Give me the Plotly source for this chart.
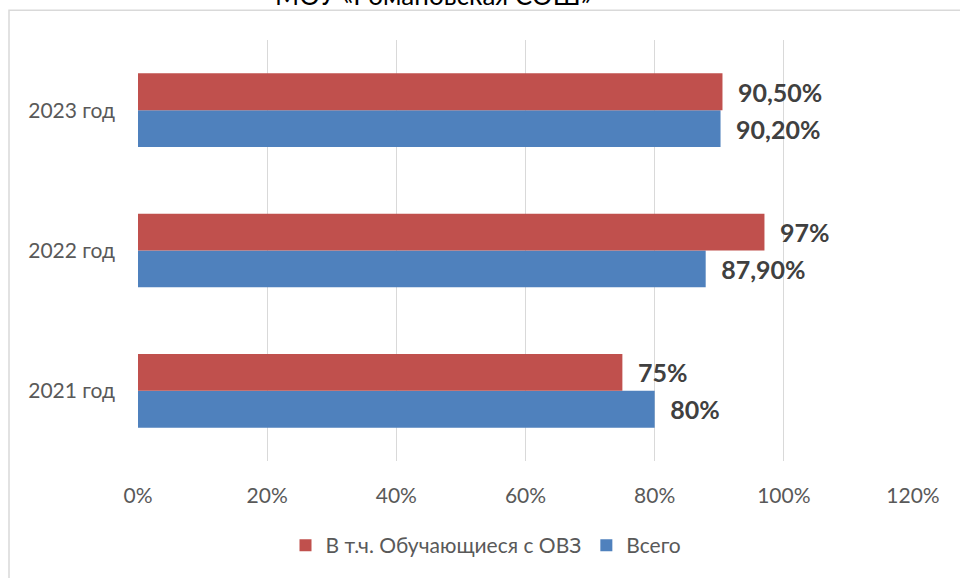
import plotly.graph_objects as go

categories = ["2021 год", "2022 год", "2023 год"]
total_values = [0.80, 0.879, 0.902]
total_labels = ["80%", "87,90%", "90,20%"]
ovz_values = [0.75, 0.97, 0.905]
ovz_labels = ["75%", "97%", "90,50%"]
x_ticks = [0, 0.2, 0.4, 0.6, 0.8, 1.0, 1.2]
x_ticktext = ["0%", "20%", "40%", "60%", "80%", "100%", "120%"]

FONT = "Lato"
pad = "\u2002"

fig = go.Figure()
fig.add_trace(go.Bar(
    y=categories, x=total_values, orientation="h", name="Всего",
    marker=dict(color="#4F81BD", line=dict(width=0)),
    text=[pad + t for t in total_labels], textposition="outside",
    textfont=dict(family=FONT, size=25, color="#404040", weight="bold"),
    cliponaxis=False,
))
fig.add_trace(go.Bar(
    y=categories, x=ovz_values, orientation="h", name="В т.ч. Обучающиеся с ОВЗ",
    marker=dict(color="#C0504D", line=dict(width=0)),
    text=[pad + t for t in ovz_labels], textposition="outside",
    textfont=dict(family=FONT, size=25, color="#404040", weight="bold"),
    cliponaxis=False,
))

W, H = 960, 578
L, T = 138, 40
pw, ph = 775, 423
R, B = W - L - pw, H - T - ph


def px2x(px):
    return (px - L) / pw


def px2y(py):
    return 1 - (py - T) / ph


fig.update_layout(
    width=W, height=H,
    margin=dict(l=L, r=R, t=T, b=B),
    paper_bgcolor="white", plot_bgcolor="white",
    barmode="group", bargap=0.475, bargroupgap=0,
    font=dict(family=FONT, size=21, color="#595959"),
    xaxis=dict(range=[0, 1.2], tickvals=x_ticks, ticktext=x_ticktext,
               showgrid=True, gridcolor="#D9D9D9", gridwidth=1,
               zeroline=False, showline=False, ticks="",
               ticklabelstandoff=20, tickfont=dict(size=21, color="#595959")),
    yaxis=dict(showgrid=False, zeroline=False, showline=False, ticks="",
               ticklabelstandoff=22, tickfont=dict(size=21, color="#595959")),
    legend=dict(orientation="h", x=px2x(486), y=px2y(548), xanchor="center",
                yanchor="middle", traceorder="reversed",
                font=dict(size=21, color="#595959"), itemwidth=30),
    showlegend=True,
    shapes=[dict(type="rect", xref="paper", yref="paper",
                 x0=px2x(9), x1=px2x(975), y0=px2y(600), y1=px2y(10),
                 line=dict(color="#D9D9D9", width=1.5), fillcolor="rgba(0,0,0,0)",
                 layer="above")],
    annotations=[dict(text="МОУ «Романовская СОШ»", xref="paper", yref="paper",
                      x=px2x(433), y=px2y(-5.5), xanchor="center", yanchor="middle",
                      showarrow=False, font=dict(family=FONT, size=26, color="#000000"))],
)

fig.write_html("out.html",
               config={"displayModeBar": False},
               post_script="document.body.style.margin='0';document.body.style.overflow='hidden';")
